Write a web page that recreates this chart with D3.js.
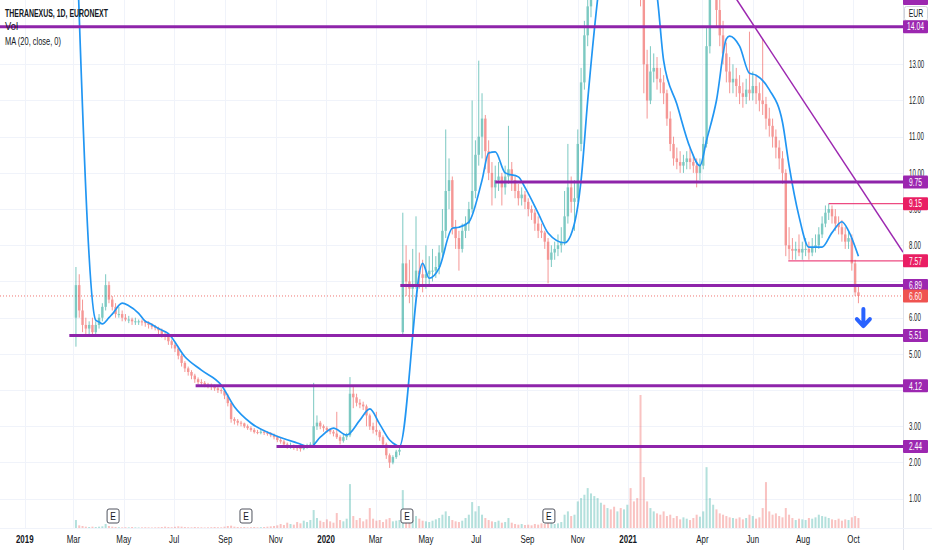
<!DOCTYPE html>
<html><head><meta charset="utf-8">
<script src="https://cdn.jsdelivr.net/npm/d3@7"></script>
<style>
html,body{margin:0;padding:0;background:#fff;}
svg{display:block;font-family:"Liberation Sans",Arial,sans-serif;}
</style></head><body>
<svg id="c" width="932" height="550"></svg>
<script>
// ---------- DATA ----------
const title = "THERANEXUS, 1D, EURONEXT";
const legendLines = ["Vol", "MA (20, close, 0)"];
const currency = "EUR";
const startDate = "2019-03-04";      // first candle
const candleStepDays = 4;            // one candle per 4 calendar days
const opens = [6.0,6.9,6.2,5.8,5.7,5.8,5.6,5.8,6.0,6.3, 6.9,6.5,6.3,6.1,6.1,6.0,5.95,5.95,5.9,5.9,
 5.9,5.88,5.85,5.8,5.75,5.72,5.65,5.55,5.47,5.35, 5.25,5.15,4.95,4.75,4.6,4.5,4.4,4.3,4.22,4.2,
 4.15,4.14,4.1,4.05,4.0,3.98,3.85,3.64,3.2,3.15, 3.1,3.08,3.0,2.95,2.9,2.84,2.82,2.85,2.82,2.8,
 2.75,2.7,2.62,2.58,2.5,2.45,2.45,2.42,2.4,2.38, 2.42,2.48,2.5,3.0,3.1,3.0,2.95,2.9,2.85,2.8,
 2.7,2.6,2.7,2.75,3.9,3.8,3.65,3.6,3.55,3.3, 3.0,2.9,2.85,2.7,2.5,2.2,2.0,2.15,2.3,5.6,
 7.5,7.0,6.8,6.9,7.3,7.2,7.1,7.2,7.3,7.3, 7.4,7.8,8.4,9.5,9.8,8.5,8.2,7.9,8.4,8.6,
 9.0,9.5,10.5,11.0,11.5,10.6,10.0,9.6,9.8,9.9, 9.6,9.9,10.1,9.8,9.5,9.3,9.4,9.2,9.0,8.9,
 8.6,8.4,8.35,8.1,7.6,7.8,7.9,8.0,8.1,8.8, 9.6,9.2,9.3,10.8,12.5,13.8,14.6,16.0,17.0,18.0,
 19.0,18.5,19.5,18.0,17.5,18.5,17.0,17.5,18.0,17.0, 16.5,16.0,15.2,13.0,12.0,12.8,12.9,12.6,12.5,12.2,
 11.5,10.8,10.4,10.3,10.2,10.3,10.4,10.3,10.2,10.0, 10.2,10.8,13.5,15.5,15.8,14.5,13.8,13.3,12.8,12.5,
 12.6,12.4,12.2,12.1,12.3,12.2,12.4,12.2,12.0,11.9, 11.5,11.3,11.0,10.7,10.4,10.0,8.0,7.9,7.85,7.9,
 7.8,7.9,7.9,7.8,7.95,8.0,8.3,8.6,8.9,9.0, 8.8,8.6,8.5,8.3,8.1,8.2,7.5,6.7];
const highs = [7.4,7.2,6.5,6.0,5.9,6.0,5.9,6.1,6.4,7.2, 7.0,6.6,6.4,6.3,6.2,6.1,6.05,6.0,6.0,5.95,
 5.95,5.92,5.9,5.85,5.8,5.75,5.7,5.6,5.5,5.4, 5.3,5.2,5.0,4.8,4.65,4.55,4.45,4.35,4.3,4.25,
 4.2,4.18,4.15,4.1,4.05,4.0,3.9,3.68,3.25,3.2, 3.15,3.1,3.05,3.0,2.95,2.9,2.92,2.9,2.86,2.84,
 2.8,2.74,2.68,2.62,2.55,2.55,2.5,2.48,2.45,2.48, 2.52,2.56,4.2,3.3,3.15,3.05,3.0,2.95,2.9,3.4,
 2.75,2.78,2.82,4.36,4.1,3.9,3.75,3.68,3.6,3.35, 3.1,3.4,2.9,2.75,2.55,2.25,2.2,2.35,2.45,8.9,
 8.0,7.6,7.9,8.8,7.8,7.6,8.0,7.7,7.9,7.7, 8.0,9.0,11.2,10.4,9.9,8.7,8.4,8.6,8.8,9.2,
 12.0,10.9,13.1,12.2,11.6,10.9,10.3,10.2,10.3,10.0, 10.2,11.3,10.3,9.9,9.7,9.6,9.5,9.3,9.1,9.0,
 8.8,8.6,8.4,8.2,8.0,8.1,8.3,8.5,9.5,10.8, 9.9,9.8,11.2,12.9,14.2,15.0,16.5,17.5,18.5,19.5,
 19.5,20.0,19.8,18.5,19.0,18.8,18.0,18.5,18.2,17.2, 16.8,16.5,15.5,13.4,13.5,13.3,13.2,12.9,12.7,12.3,
 11.7,11.0,10.7,10.6,10.5,10.6,10.7,10.5,10.4,10.4, 11.0,14.0,16.0,16.5,16.0,14.8,14.2,13.6,13.2,13.0,
 12.9,12.7,12.5,12.6,13.9,12.8,12.7,12.5,13.7,12.1, 11.8,11.5,11.2,10.9,10.6,10.1,8.5,8.2,8.1,8.3,
 8.1,8.2,8.1,8.2,8.3,8.5,8.8,9.1,9.15,9.1, 9.0,8.8,8.7,8.5,8.4,8.3,7.6,6.9];
const lows = [5.2,6.0,5.6,5.5,5.5,5.5,5.5,5.7,5.9,6.2, 6.4,6.2,6.0,6.0,5.9,5.9,5.85,5.8,5.8,5.8,
 5.78,5.75,5.7,5.68,5.65,5.55,5.45,5.38,5.25,5.15, 5.05,4.85,4.65,4.5,4.4,4.3,4.2,4.15,4.12,4.08,
 4.05,4.0,3.98,3.92,3.9,3.75,3.55,3.1,3.05,3.02, 3.0,2.95,2.9,2.85,2.8,2.78,2.78,2.76,2.74,2.7,
 2.64,2.56,2.52,2.45,2.38,2.38,2.35,2.32,2.3,2.34, 2.38,2.42,2.45,2.9,2.92,2.85,2.82,2.78,2.72,2.65,
 2.5,2.55,2.62,2.7,3.5,3.55,3.5,3.45,3.0,2.9, 2.8,2.75,2.6,2.4,2.1,1.85,1.95,2.1,2.2,5.5,
 6.6,6.4,5.6,6.8,6.8,6.7,6.8,6.9,7.0,7.1, 7.2,7.6,8.2,9.0,8.3,7.9,7.3,7.8,8.2,8.4,
 8.9,9.3,10.2,10.4,10.1,9.8,9.1,9.3,9.5,9.1, 9.4,9.7,9.5,9.3,9.1,9.1,9.0,8.8,8.7,8.4,
 8.2,8.2,7.9,6.95,7.4,7.6,7.7,7.8,8.0,8.6, 8.9,8.4,9.2,10.6,12.3,13.5,14.3,15.5,16.5,17.5,
 18.0,18.0,17.5,17.0,17.2,16.5,16.5,17.0,16.5,16.0, 15.6,14.6,12.2,11.5,11.9,12.5,12.3,12.2,11.9,11.3,
 10.6,10.2,10.1,10.0,10.0,10.1,10.1,10.0,9.6,9.8, 10.1,10.7,13.3,15.0,14.0,13.5,13.0,12.5,12.2,12.2,
 12.1,11.9,11.8,11.9,12.0,12.0,11.9,11.7,11.6,11.2, 11.0,10.7,10.4,10.1,9.7,7.7,7.6,7.6,7.6,7.7,
 7.6,7.7,7.6,7.7,7.8,7.9,8.2,8.5,8.7,8.6, 8.4,8.3,8.1,7.9,7.9,7.3,6.6,6.4];
const closes = [6.9,6.2,5.8,5.7,5.8,5.6,5.8,6.0,6.3,6.9, 6.5,6.3,6.1,6.1,6.0,5.95,5.95,5.9,5.9,5.9,
 5.88,5.85,5.8,5.75,5.72,5.65,5.55,5.47,5.35,5.25, 5.15,4.95,4.75,4.6,4.5,4.4,4.3,4.22,4.2,4.15,
 4.14,4.1,4.05,4.0,3.98,3.85,3.64,3.2,3.15,3.1, 3.08,3.0,2.95,2.9,2.84,2.82,2.85,2.82,2.8,2.75,
 2.7,2.62,2.58,2.5,2.45,2.45,2.42,2.4,2.38,2.42, 2.48,2.5,3.0,3.1,3.0,2.95,2.9,2.85,2.8,2.7,
 2.6,2.7,2.75,3.9,3.8,3.65,3.6,3.55,3.3,3.0, 2.9,2.85,2.7,2.5,2.2,2.0,2.15,2.3,2.35,7.5,
 7.0,6.8,6.9,7.3,7.2,7.1,7.2,7.3,7.3,7.4, 7.8,8.4,9.5,9.8,8.5,8.2,7.9,8.4,8.6,9.0,
 9.5,10.5,11.0,11.5,10.6,10.0,9.6,9.8,9.9,9.6, 9.9,10.1,9.8,9.5,9.3,9.4,9.2,9.0,8.9,8.6,
 8.4,8.35,8.1,7.6,7.8,7.9,8.0,8.1,8.8,9.6, 9.2,9.3,10.8,12.5,13.8,14.6,16.0,17.0,18.0,19.0,
 18.5,19.5,18.0,17.5,18.5,17.0,17.5,18.0,17.0,16.5, 16.0,15.2,13.0,12.0,12.8,12.9,12.6,12.5,12.2,11.5,
 10.8,10.4,10.3,10.2,10.3,10.4,10.3,10.2,10.0,10.2, 10.8,13.5,15.5,15.8,14.5,13.8,13.3,12.8,12.5,12.6,
 12.4,12.2,12.1,12.3,12.2,12.4,12.2,12.0,11.9,11.5, 11.3,11.0,10.7,10.4,10.0,8.0,7.9,7.85,7.9,7.8,
 7.9,7.9,7.8,7.95,8.0,8.3,8.6,8.9,9.0,8.8, 8.6,8.5,8.3,8.1,8.2,7.5,6.7,6.6];
const volumes = [120,40,30,20,15,20,15,20,25,60, 30,20,15,12,10,12,10,15,10,8,
 10,12,10,8,10,12,15,20,15,12, 18,25,20,15,12,10,15,12,10,8,
 10,12,15,12,10,20,30,35,20,15, 12,15,10,12,15,10,12,15,20,25,
 30,40,60,45,80,60,50,90,70,110, 90,120,270,150,110,90,130,100,80,225,
 120,100,140,660,180,120,150,100,130,300, 140,110,120,90,130,150,100,110,120,570,
 200,150,120,180,140,110,100,90,110,130, 150,200,250,180,120,100,90,110,150,200,
 390,250,330,200,150,120,100,90,110,80, 90,150,80,60,50,60,45,50,40,60,
 50,70,60,120,80,60,70,90,200,250, 180,200,400,450,500,600,520,480,450,380,
 350,300,280,320,250,300,280,350,600,400, 450,2000,765,400,300,250,220,200,250,180,
 200,150,180,130,160,140,120,150,200,170, 250,915,450,350,280,220,200,180,160,150,
 140,160,130,150,200,180,140,160,300,690, 250,200,220,180,160,300,200,150,120,140,
 130,120,150,140,160,200,180,170,150,130, 120,140,110,130,120,160,180,150];
// MA(20), keyed by candle index
const maIdx = [0,6,7,8,10,11,14,16,19,21,22,25,28,33,38,44,48,53,60,67,71,74,78,82,86,89,92,95,97,98,
 105,107,110,114,116,119,123,125,127,130,134,136,140,143,148,151,153,155,158,162,166,170,174,176,178,
 182,186,189,191,194,197,198,201,204,206,210,214,216,219,222,226,229,232,234,237];
const maVal = [17.0,5.93,5.88,5.83,6.0,6.1,6.4,6.33,6.12,5.9,5.86,5.7,5.56,4.92,4.55,4.14,3.54,3.09,2.76,2.54,
 2.43,2.70,2.95,2.76,3.17,3.48,3.06,2.62,2.48,2.45, 7.5,7.09,7.37,8.47,8.5,8.64,9.8,10.55,10.58,10.0,
 9.89,9.6,8.89,8.34,8.07,8.61,9.8,12.0,14.8,17.5,18.5,17.0,15.6,14.9,13.1, 11.9,10.7,10.2,10.9,12.0,
 13.7,13.78,13.5,12.75,12.7,12.3,11.4,10.2,8.8,7.95,7.95,8.35,8.65,8.4,7.7];
// support / resistance levels (purple) and their start dates
const levelValues = [14.82, 14.04, 9.75, 6.89, 5.51, 4.12, 2.44];
const levelStarts = ["2018-11-01","2018-11-01","2020-07-24","2020-03-31","2019-02-24","2019-07-27","2019-11-02"];
// red levels
const redValues = [9.15, 7.57];
const redStarts = ["2021-09-01","2021-07-14"];
const lastPrice = 6.60;
// downtrend line (two anchor points)
const trendDates = ["2021-03-29","2021-11-30"];
const trendValues = [16.33, 7.81];
// arrow annotation (date, from value, to value)
const arrowDate = "2021-10-13", arrowFrom = 6.24, arrowTo = 5.77;
// earnings markers
const earningsDates = ["2019-04-18","2019-09-26","2020-04-08","2020-09-27"];
// axes
const priceTicks = [1,2,3,5,6,8,9,10,11,12,13];
const gridPrices = [1,2,3,4,5,6,7,8,9,10,11,12,13];
const timeTickDates = ["2019-01-01","2019-03-01","2019-05-01","2019-07-01","2019-09-01","2019-11-01",
 "2020-01-01","2020-03-01","2020-05-01","2020-07-01","2020-09-01","2020-11-01",
 "2021-01-01","2021-04-01","2021-06-01","2021-08-01","2021-10-01"];
const timeTickLabels = ["2019","Mar","May","Jul","Sep","Nov","2020","Mar","May","Jul","Sep","Nov",
 "2021","Apr","Jun","Aug","Oct"];

// ---------- CHART ----------
const W = 932, H = 550, plotR = 903, plotB = 528;
const parse = d3.utcParse("%Y-%m-%d");
const t0 = parse(startDate);
const dates = opens.map((_, i) => d3.utcDay.offset(t0, i * candleStepDays));
const candles = opens.map((o, i) => ({d: dates[i], o, h: highs[i], l: lows[i], c: closes[i], v: volumes[i]}));

const x = d3.scaleUtc().domain([parse("2018-12-02"), parse("2021-11-30")]).range([0, plotR]);
const y = d3.scaleLinear().domain([0, 14.776]).range([534.9, 0]);
const yv = d3.scaleLinear().domain([0, 2000]).range([plotB, 395]);

const up = "#26a69a", dn = "#ef5350", purple = "#9c27b0", crimson = "#e91e63", maColor = "#2196f3";
const ink = "#131722";
const svg = d3.select("#c");
svg.append("rect").attr("width", W).attr("height", H).attr("fill", "#fff");
svg.append("defs").append("clipPath").attr("id", "plot")
  .append("rect").attr("x", 0).attr("y", 0).attr("width", plotR).attr("height", plotB);

// narrow text helper (the reference uses a condensed face)
function ntext(parent, tx, ty, str, o = {}) {
  return parent.append("text")
    .attr("transform", `translate(${tx},${ty}) scale(${o.sx || 0.7},1)`)
    .attr("text-anchor", o.anchor || "start")
    .attr("font-size", o.size || 10)
    .attr("font-weight", o.weight || 400)
    .attr("fill", o.fill || ink)
    .text(str);
}

const g = svg.append("g").attr("clip-path", "url(#plot)");

// grid
g.selectAll(".hg").data(gridPrices).join("line")
  .attr("x1", 0).attr("x2", plotR).attr("y1", d => Math.round(y(d)) + 0.5).attr("y2", d => Math.round(y(d)) + 0.5)
  .attr("stroke", "#f0f3fa").attr("stroke-width", 1);
g.selectAll(".vg").data(timeTickDates).join("line")
  .attr("x1", d => Math.round(x(parse(d))) + 0.5).attr("x2", d => Math.round(x(parse(d))) + 0.5)
  .attr("y1", 0).attr("y2", plotB).attr("stroke", "#f0f3fa").attr("stroke-width", 1);

// volume
g.selectAll(".vol").data(candles).join("rect")
  .attr("x", d => x(d.d) - 1).attr("width", 2)
  .attr("y", d => yv(d.v)).attr("height", d => plotB - yv(d.v))
  .attr("fill", d => d.c >= d.o ? up : dn).attr("opacity", 0.35);

// dotted last price line
g.append("line").attr("x1", 0).attr("x2", plotR)
  .attr("y1", y(lastPrice)).attr("y2", y(lastPrice))
  .attr("stroke", dn).attr("stroke-width", 1).attr("stroke-dasharray", "1,2").attr("opacity", 0.8);

// candles
const cg = g.append("g").attr("opacity", 0.6);
cg.selectAll(".wick").data(candles).join("line")
  .attr("x1", d => x(d.d)).attr("x2", d => x(d.d))
  .attr("y1", d => y(d.h)).attr("y2", d => y(d.l))
  .attr("stroke", d => d.c >= d.o ? up : dn).attr("stroke-width", 1);
cg.selectAll(".body").data(candles).join("rect")
  .attr("x", d => x(d.d) - 1.2).attr("width", 2.4)
  .attr("y", d => y(Math.max(d.o, d.c)))
  .attr("height", d => Math.max(1, Math.abs(y(d.o) - y(d.c))))
  .attr("fill", d => d.c >= d.o ? up : dn);

// moving average
const maPts = maIdx.map((k, j) => [dates[k], maVal[j]]);
g.append("path").datum(maPts)
  .attr("d", d3.line().x(d => x(d[0])).y(d => y(d[1])).curve(d3.curveMonotoneX))
  .attr("fill", "none").attr("stroke", maColor).attr("stroke-width", 1.7);

// purple levels
levelValues.forEach((v, i) => {
  g.append("line").attr("x1", x(parse(levelStarts[i]))).attr("x2", plotR)
    .attr("y1", y(v)).attr("y2", y(v))
    .attr("stroke", "#8e24aa").attr("stroke-width", 3);
});
// red levels
redValues.forEach((v, i) => {
  g.append("line").attr("x1", x(parse(redStarts[i]))).attr("x2", plotR)
    .attr("y1", y(v)).attr("y2", y(v))
    .attr("stroke", crimson).attr("stroke-width", 1.2).attr("opacity", 0.8);
});
// trend line
g.append("line")
  .attr("x1", x(parse(trendDates[0]))).attr("y1", y(trendValues[0]))
  .attr("x2", x(parse(trendDates[1]))).attr("y2", y(trendValues[1]))
  .attr("stroke", purple).attr("stroke-width", 1.5);

// arrow
const ax = x(parse(arrowDate)), ay1 = y(arrowFrom), ay2 = y(arrowTo);
g.append("path")
  .attr("d", `M${ax},${ay1}L${ax},${ay2}M${ax - 6.5},${ay2 - 7}L${ax},${ay2}L${ax + 6.5},${ay2 - 7}`)
  .attr("fill", "none").attr("stroke", "#2962ff").attr("stroke-width", 4)
  .attr("stroke-linecap", "round").attr("stroke-linejoin", "round");

// earnings markers
const eg = svg.append("g");
earningsDates.forEach(d => {
  const cx = x(parse(d));
  eg.append("rect").attr("x", cx - 6).attr("y", 509).attr("width", 12).attr("height", 14).attr("rx", 2)
    .attr("fill", "#fff").attr("stroke", "#50535e").attr("stroke-width", 1);
  ntext(eg, cx, 520, "E", {anchor: "middle", size: 10.5, sx: 0.8});
});

// legend
svg.append("text").attr("x", 5).attr("y", 17).attr("font-size", 11).attr("font-weight", 700)
  .attr("textLength", 103).attr("lengthAdjust", "spacingAndGlyphs").attr("fill", ink).text(title);
svg.append("text").attr("x", 5).attr("y", 29.5).attr("font-size", 11)
  .attr("textLength", 13).attr("lengthAdjust", "spacingAndGlyphs").attr("fill", ink).text(legendLines[0]);
svg.append("text").attr("x", 5).attr("y", 45).attr("font-size", 11)
  .attr("textLength", 56).attr("lengthAdjust", "spacingAndGlyphs").attr("fill", ink).text(legendLines[1]);

// axis frame
svg.append("line").attr("x1", plotR + 0.5).attr("x2", plotR + 0.5).attr("y1", 0).attr("y2", H)
  .attr("stroke", "#e0e3eb");
svg.append("line").attr("x1", 0).attr("x2", W).attr("y1", plotB + 0.5).attr("y2", plotB + 0.5)
  .attr("stroke", "#f0f3fa");

// price axis labels
const pg = svg.append("g");
priceTicks.forEach(d => ntext(pg, 909, y(d) + 3.8, d3.format(".2f")(d), {size: 10.5, sx: 0.58}));

// EUR box
svg.append("rect").attr("x", 904.5).attr("y", 6.5).attr("width", 23).attr("height", 14).attr("rx", 2)
  .attr("fill", "#fff").attr("stroke", "#d1d4dc");
ntext(svg, 916, 17.3, currency, {anchor: "middle", size: 10.5, sx: 0.65});

function priceLabel(v, color, withText) {
  const cy = y(v);
  svg.append("rect").attr("x", 903).attr("y", cy - 6.5).attr("width", 25).attr("height", 13).attr("rx", 1)
    .attr("fill", color);
  if (withText) ntext(svg, 915.5, cy + 3.8, d3.format(".2f")(v), {anchor: "middle", size: 10.5, sx: 0.64, fill: "#fff"});
}
levelValues.forEach(v => priceLabel(v, purple, y(v) - 6.5 >= 0));
redValues.forEach(v => priceLabel(v, crimson, true));
priceLabel(lastPrice, dn, true);

// time axis labels
const tg = svg.append("g");
timeTickDates.forEach((d, i) => {
  const isYear = /^\d{4}$/.test(timeTickLabels[i]);
  ntext(tg, x(parse(d)), 543, timeTickLabels[i], {anchor: "middle", size: 11, sx: 0.72, weight: isYear ? 700 : 400});
});
</script>
</body></html>
